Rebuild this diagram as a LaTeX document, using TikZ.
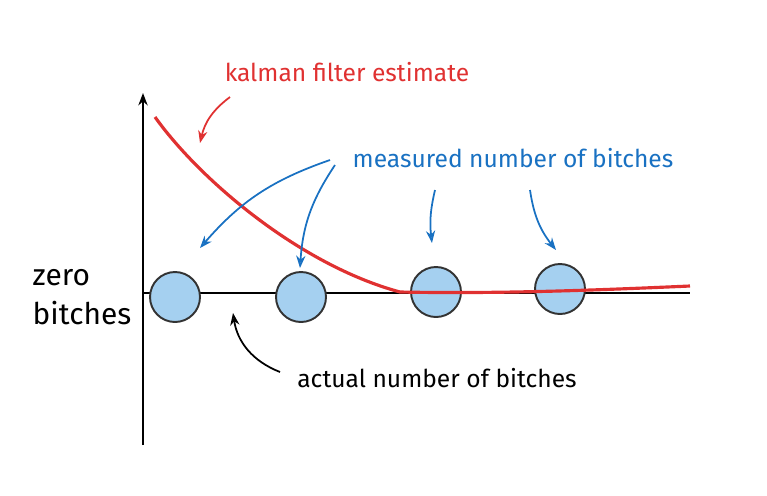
\documentclass[tikz,border=0pt]{standalone}
\usepackage{fontspec}
\setmainfont{Fira Sans}
\usetikzlibrary{arrows.meta}
\definecolor{kred}{HTML}{E03131}
\definecolor{kblue}{HTML}{1971C2}
\definecolor{kfill}{HTML}{A5D0F0}
\begin{document}
\begin{tikzpicture}[x=0.02cm,y=-0.02cm,
  dot/.style={circle,draw=black!80,fill=kfill,line width=1.1pt,minimum size=1cm,inner sep=0pt},
  lbl/.style={font=\fontsize{14}{16}\selectfont},
  note/.style={-{Stealth[length=7pt,open]},line width=1pt}]
\useasboundingbox (0,0) rectangle (767,495);
% axes
\coordinate (o) at (143,445);
\coordinate (top) at (143,93);
\draw[-{Stealth[length=7pt,open]},line width=1.2pt] (o) -- (top);
\coordinate (xl) at (143,293);
\coordinate (xr) at (690,293);
\draw[line width=1.2pt] (xl) -- (xr);
% measurements
\node[dot] (m1) at (175,297) {};
\node[dot] (m2) at (301,297) {};
\node[dot] (m3) at (436,292) {};
\node[dot] (m4) at (560,289) {};
% estimate
\draw[kred,line width=1.8pt] (155,117) .. controls (200,180) and (300,265) .. (400,292)
  .. controls (500,294) and (600,290) .. (690,286);
% labels
\node[lbl,kred] (kf) at (347,72) {kalman filter estimate};
\node[lbl,kblue] (ms) at (513,158) {measured number of bitches};
\node[lbl] (act) at (437,378) {actual number of bitches};
\node[font=\fontsize{17}{22}\selectfont,align=left] (zero) at (82,297) {zero\\bitches};
% pointers
\coordinate (kfa) at (200,143);
\draw[note,kred] (230,97) to[bend right=20] (kfa);
\draw[note,kblue] (330,160) to[bend right=15] (200,248);
\draw[note,kblue] (335,165) to[bend right=15] (300,268);
\draw[note,kblue] (435,190) to[bend right=10] (432,243);
\draw[note,kblue] (530,190) to[bend right=15] (556,250);
\coordinate (aa) at (233,313);
\draw[note] (280,372) to[bend left=30] (aa);
\end{tikzpicture}
\end{document}
